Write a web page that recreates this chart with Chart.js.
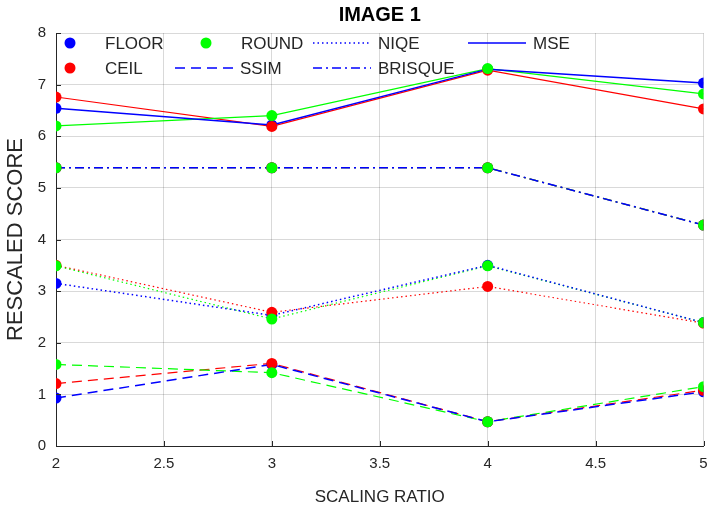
<!DOCTYPE html>
<html>
<head>
<meta charset="utf-8">
<title>IMAGE 1</title>
<script src="https://cdn.jsdelivr.net/npm/chart.js@4/dist/chart.umd.min.js"></script>
<style>
    html, body { margin: 0; padding: 0; background: #fff; }
    .chartBox { width: 709px; height: 512px; }
</style>
</head>
<body>
<div class="chartBox"><canvas id="imageChart"></canvas></div>
<script>
// scaling ratios on the x axis
const ratios = [2, 3, 4, 5];
const xTicks = [2, 2.5, 3, 3.5, 4, 4.5, 5];
const yTicks = [0, 1, 2, 3, 4, 5, 6, 7, 8];

// rescaled scores, one array per metric and rounding mode
const mseFloor = [6.54, 6.22, 7.30, 7.03];
const mseCeil = [6.76, 6.19, 7.28, 6.53];
const mseRound = [6.20, 6.40, 7.31, 6.82];

const ssimFloor = [0.93, 1.58, 0.47, 1.05];
const ssimCeil = [1.21, 1.60, 0.47, 1.08];
const ssimRound = [1.58, 1.42, 0.47, 1.15];

const niqeFloor = [3.15, 2.53, 3.50, 2.39];
const niqeCeil = [3.50, 2.59, 3.09, 2.38];
const niqeRound = [3.49, 2.46, 3.49, 2.39];

const brisqueFloor = [5.39, 5.39, 5.39, 4.28];
const brisqueCeil = [5.39, 5.39, 5.39, 4.28];
const brisqueRound = [5.39, 5.39, 5.39, 4.28];

const BLUE = '#0000ff';
const RED = '#ff0000';
const GREEN = '#00ff00';
const TEXT = '#262626';
const FONT = '"Liberation Sans", Arial, Helvetica, sans-serif';

const SOLID = [];
const DASHED = [10, 6];
const DOTTED = [1.5, 3];
const DASHDOT = [9, 4, 2, 4];

const pts = (ys) => ratios.map((x, i) => ({ x: x, y: ys[i] }));

const lineSet = (label, ys, color, dash, order, width) => ({
    label: label,
    data: pts(ys),
    borderColor: color,
    borderWidth: width,
    borderDash: dash,
    pointRadius: 0,
    fill: false,
    tension: 0,
    order: order
});

const markerSet = (label, lists, color, order) => ({
    label: label,
    data: lists.flatMap(ys => pts(ys)),
    showLine: false,
    pointRadius: 5.5,
    pointBackgroundColor: color,
    pointBorderColor: color,
    pointBorderWidth: 0,
    order: order
});

const datasets = [
    markerSet('ROUND', [mseRound, ssimRound, niqeRound, brisqueRound], GREEN, 0),
    markerSet('CEIL', [mseCeil, ssimCeil, niqeCeil, brisqueCeil], RED, 1),
    markerSet('FLOOR', [mseFloor, ssimFloor, niqeFloor, brisqueFloor], BLUE, 2),

    // floor lines sit on top (slightly wider so overlaps stay blue)
    lineSet('MSE floor', mseFloor, BLUE, SOLID, 3, 1.5),
    lineSet('SSIM floor', ssimFloor, BLUE, DASHED, 3, 1.5),
    lineSet('NIQE floor', niqeFloor, BLUE, DOTTED, 3, 1.5),
    lineSet('BRISQUE floor', brisqueFloor, BLUE, DASHDOT, 3, 1.5),

    lineSet('MSE round', mseRound, GREEN, SOLID, 4, 1.2),
    lineSet('SSIM round', ssimRound, GREEN, DASHED, 4, 1.2),
    lineSet('NIQE round', niqeRound, GREEN, DOTTED, 4, 1.2),
    lineSet('BRISQUE round', brisqueRound, GREEN, DASHDOT, 4, 1.2),

    lineSet('MSE ceil', mseCeil, RED, SOLID, 5, 1.2),
    lineSet('SSIM ceil', ssimCeil, RED, DASHED, 5, 1.2),
    lineSet('NIQE ceil', niqeCeil, RED, DOTTED, 5, 1.2),
    lineSet('BRISQUE ceil', brisqueCeil, RED, DASHDOT, 5, 1.2)
];

// legend inside the axes, two rows like the matlab one
const legendItems = [
    { text: 'FLOOR', dot: BLUE, x: 70, row: 0 },
    { text: 'CEIL', dot: RED, x: 70, row: 1 },
    { text: 'ROUND', dot: GREEN, x: 206, row: 0 },
    { text: 'SSIM', dash: DASHED, x: 175, row: 1 },
    { text: 'NIQE', dash: DOTTED, x: 313, row: 0 },
    { text: 'BRISQUE', dash: DASHDOT, x: 313, row: 1 },
    { text: 'MSE', dash: SOLID, x: 468, row: 0 }
];

const matlabDecor = {
    id: 'matlabDecor',
    afterDraw: (chart) => {
        const ctx = chart.ctx;
        const area = chart.chartArea;
        const xs = chart.scales.x;
        const ys = chart.scales.y;
        ctx.save();

        // inward tick marks
        ctx.strokeStyle = TEXT;
        ctx.lineWidth = 1;
        ctx.setLineDash([]);
        ctx.beginPath();
        yTicks.forEach(v => {
            const py = Math.round(ys.getPixelForValue(v)) + 0.5;
            ctx.moveTo(area.left, py);
            ctx.lineTo(area.left + 5, py);
        });
        xTicks.forEach(v => {
            const px = Math.round(xs.getPixelForValue(v)) + 0.5;
            ctx.moveTo(px, area.bottom);
            ctx.lineTo(px, area.bottom - 5);
        });
        ctx.stroke();

        // title
        ctx.fillStyle = '#000';
        ctx.font = 'bold 20px ' + FONT;
        ctx.textAlign = 'center';
        ctx.textBaseline = 'middle';
        ctx.fillText('IMAGE 1', (area.left + area.right) / 2, 15);

        // legend
        ctx.font = '17px ' + FONT;
        ctx.textAlign = 'left';
        legendItems.forEach(item => {
            const y = item.row === 0 ? 43 : 68;
            if (item.dot) {
                ctx.fillStyle = item.dot;
                ctx.beginPath();
                ctx.arc(item.x, y, 5.5, 0, Math.PI * 2);
                ctx.fill();
                ctx.fillStyle = TEXT;
                ctx.fillText(item.text, item.x + 35, y + 1);
            } else {
                ctx.strokeStyle = BLUE;
                ctx.lineWidth = 1.5;
                ctx.setLineDash(item.dash);
                ctx.beginPath();
                ctx.moveTo(item.x, y);
                ctx.lineTo(item.x + 58, y);
                ctx.stroke();
                ctx.setLineDash([]);
                ctx.fillStyle = TEXT;
                ctx.fillText(item.text, item.x + 65, y + 1);
            }
        });
        ctx.restore();
    }
};

const ctx = document.getElementById('imageChart').getContext('2d');
const imageChart = new Chart(ctx, {
    type: 'line',
    data: { datasets: datasets },
    options: {
        responsive: true,
        maintainAspectRatio: false,
        animation: false,
        layout: {
            padding: { top: 33, right: 5, left: 0, bottom: 0 }
        },
        scales: {
            x: {
                type: 'linear',
                min: 2,
                max: 5,
                afterBuildTicks: (scale) => { scale.ticks = xTicks.map(v => ({ value: v })); },
                afterFit: (scale) => {
                    scale.height = 66;
                    scale.paddingLeft = 0;
                    scale.paddingRight = 0;
                },
                grid: { color: 'rgba(0,0,0,0.15)', drawTicks: false },
                border: { color: TEXT, width: 1 },
                ticks: {
                    color: TEXT,
                    padding: 9,
                    maxRotation: 0,
                    callback: (v) => String(v),
                    font: { family: FONT, size: 15 }
                },
                title: {
                    display: true,
                    text: 'SCALING RATIO',
                    color: TEXT,
                    padding: { top: 6 },
                    font: { family: FONT, size: 17 }
                }
            },
            y: {
                min: 0,
                max: 8,
                afterBuildTicks: (scale) => { scale.ticks = yTicks.map(v => ({ value: v })); },
                afterFit: (scale) => {
                    scale.width = 56;
                    scale.paddingTop = 0;
                    scale.paddingBottom = 0;
                },
                grid: { color: 'rgba(0,0,0,0.15)', drawTicks: false },
                border: { color: TEXT, width: 1 },
                ticks: {
                    color: TEXT,
                    padding: 10,
                    callback: (v) => String(v),
                    font: { family: FONT, size: 15 }
                },
                title: {
                    display: true,
                    text: 'RESCALED SCORE',
                    color: TEXT,
                    padding: { top: 3 },
                    font: { family: FONT, size: 22 }
                }
            }
        },
        plugins: {
            legend: { display: false },
            tooltip: { enabled: false }
        }
    },
    plugins: [matlabDecor]
});
</script>
</body>
</html>
